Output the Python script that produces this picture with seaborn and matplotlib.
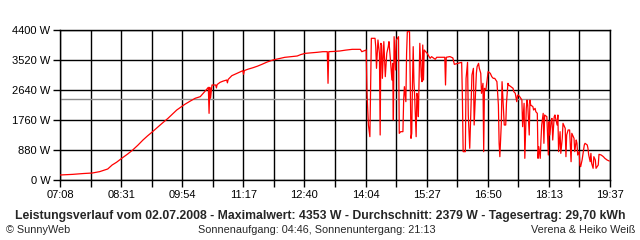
import matplotlib
matplotlib.use("Agg")
import matplotlib.pyplot as plt
import seaborn as sns
import pandas as pd

# time in minutes after midnight, power in W
times = [428, 445, 460, 472, 482, 493, 499, 505, 512, 520, 527, 534, 541, 547, 553, 560, 567, 575, 581,
         587, 592, 598, 605, 612, 619, 625, 630, 631, 632, 633, 635, 640, 641, 642, 646, 650, 655, 656,
         657, 662, 670, 677, 678, 679, 684, 691, 697, 703, 710, 718, 726, 734, 742, 751, 756, 762, 770,
         778, 786, 792, 793, 794, 800, 809, 817, 826, 837, 839,
         845, 846, 848, 850, 852, 857, 858, 859, 861, 863, 864, 865, 866, 867, 869, 871, 873, 875, 876,
         878, 880, 881, 882, 883, 885, 886, 889, 890, 892, 895, 896, 897, 899, 900, 901, 904, 905, 906,
         907, 908, 909, 910, 911, 913, 914, 915, 916, 918, 920, 921, 922, 923, 924, 926, 928, 932, 934,
         939, 941, 952, 953, 954, 959, 963, 965, 975, 976, 977, 980, 981, 983, 984, 986, 987, 988, 989,
         991, 992, 993, 995, 996, 998, 999, 1001, 1002, 1004, 1005, 1006, 1008, 1011, 1014, 1016, 1018,
         1020, 1023, 1025, 1026, 1027, 1029, 1030, 1033, 1035, 1036, 1038,
         1039, 1042, 1045, 1046, 1048, 1050, 1051, 1052, 1054, 1057, 1058, 1060, 1061, 1063, 1064, 1065,
         1067, 1068, 1069, 1072, 1073, 1075, 1076, 1078, 1079, 1080, 1082, 1083, 1084, 1086, 1087, 1088,
         1091, 1093, 1094, 1095, 1097, 1098, 1099, 1101, 1102, 1105, 1106, 1107, 1109, 1110, 1112, 1113,
         1116, 1117, 1118, 1120, 1122, 1124, 1125, 1127, 1128, 1129, 1131, 1132, 1133, 1135, 1136, 1137,
         1139, 1140, 1142, 1143, 1146, 1147, 1148, 1150, 1151, 1152, 1154, 1155, 1157, 1158, 1161, 1162,
         1165, 1168, 1170, 1173, 1176]
watts = [147, 165, 190, 205, 245, 323, 440, 520, 635, 760, 880, 1020, 1173, 1290, 1398, 1530, 1662, 1808, 1930,
         2053, 2130, 2220, 2310, 2396, 2445, 2591, 2718, 1955, 2718, 2400, 2787, 2787, 2700, 2800, 2865, 2900, 2933, 2850,
         2950, 3060, 3140, 3207, 3100, 3210, 3250, 3295, 3340, 3393, 3460, 3520, 3560, 3598, 3615, 3637, 3680, 3715, 3730,
         3745, 3764, 3764, 2836, 3764, 3770, 3784, 3810, 3833, 3833, 3764,
         3813, 2591, 1613, 1271, 4156, 4156, 3911, 3276, 4107, 3716, 1320, 4009, 3960, 2982, 4058, 3031, 3716, 3911, 4058,
         3520, 2933, 3422, 1760, 4204, 3227, 4107, 4204, 1369, 1418, 1418, 2347, 2738, 2298, 3716, 4351, 4353, 2738, 1222,
         1369, 2836, 3911, 2884, 2445, 1271, 2543, 2445, 1858, 4009, 3031, 2884, 3960, 2933, 3813, 3764, 3716, 3569, 3618,
         3540, 3600, 3600, 2787, 3600, 3620, 3580, 3393, 3452, 2396, 831, 831, 2982, 3452, 1907, 929, 1613, 2298, 3080,
         3276, 1613, 2102, 3129, 3325, 3422, 3276, 3129, 2542, 2836, 831, 2689, 2640, 3178, 3129, 3031, 2982,
         2982, 2884, 2200, 1076, 684, 1662, 2884, 1613, 1613, 2249, 2836,
         2787, 2738, 2689, 2591, 2543, 2298, 2480, 2493, 2445, 2347, 1564, 2249, 636, 2102, 2347, 2200,
         1320, 2347, 2200, 2151, 2053, 2102, 2004, 1955, 636, 978, 636, 1173, 1613, 1955, 1076, 1907,
         1858, 733, 1711, 1320, 1760, 1808, 1173, 1858, 1907, 1613, 1907, 831, 1418, 782, 1222, 1662,
         1516, 684, 1320, 1467, 1467, 537, 1369, 1271, 1222, 831, 1173, 1076, 733, 831, 440, 391,
         587, 733, 1027, 1076, 1027, 929, 733, 537, 782, 489, 343, 684, 587, 343, 440, 753,
         733, 684, 636, 587, 557]
average_w = 2379
y_ticks = [0, 880, 1760, 2640, 3520, 4400]
x_tick_labels = ["07:08", "08:31", "09:54", "11:17", "12:40", "14:04", "15:27", "16:50", "18:13", "19:37"]
t_start, t_end = 428, 1177

title = "Leistungsverlauf vom 02.07.2008 - Maximalwert: 4353 W - Durchschnitt: 2379 W - Tagesertrag: 29,70 kWh"
footer_left = "© SunnyWeb"
footer_mid = "Sonnenaufgang: 04:46, Sonnenuntergang: 21:13"
footer_right = "Verena & Heiko Weiß"

sns.set_style("white")
plt.rcParams['font.family'] = ['Liberation Sans', 'DejaVu Sans']

df = pd.DataFrame({"t": times, "w": watts})

fig = plt.figure(figsize=(6.4, 2.4), dpi=100)
ax = fig.add_axes([60/640, 1-180/240, 550/640, 150/240])

n_grid = 19
grid_x = [t_start + (t_end - t_start) * i / (n_grid - 1) for i in range(n_grid)]
for gx in grid_x:
    ax.axvline(gx, color='black', linewidth=1.0, zorder=1)
for gy in y_ticks:
    ax.axhline(gy, color='black', linewidth=1.0, zorder=1)
ax.axhline(average_w, color='#8c8c8c', linewidth=1.0, zorder=2)

sns.lineplot(data=df, x="t", y="w", ax=ax, color='#ff0000', linewidth=0.9,
             estimator=None, sort=False, zorder=3)

ax.set_xlim(t_start, t_end)
ax.set_ylim(0, 4400)
ax.set_xticks(grid_x)
labels = []
for i in range(n_grid):
    labels.append(x_tick_labels[i // 2] if i % 2 == 0 else "")
ax.set_xticklabels(labels)
ax.set_yticks(y_ticks)
ax.set_yticklabels([f"{v} W" for v in y_ticks])
ax.tick_params(axis='both', direction='out', length=5, width=1, color='black',
               labelsize=8, labelcolor='black', pad=2,
               bottom=True, left=True)
ax.set_xlabel("")
ax.set_ylabel("")
for s in ax.spines.values():
    s.set_visible(True)
    s.set_color('black')
    s.set_linewidth(1.0)

fig.text(320/640, 1-216.5/240, title, ha='center', va='center', fontsize=8.85, fontweight='bold')
fig.text(6/640, 1-230/240, footer_left, ha='left', va='center', fontsize=7.8)
fig.text(317/640, 1-230/240, footer_mid, ha='center', va='center', fontsize=7.8)
fig.text(635/640, 1-230/240, footer_right, ha='right', va='center', fontsize=7.8)

fig.savefig("out.png", dpi=100, facecolor='white')
